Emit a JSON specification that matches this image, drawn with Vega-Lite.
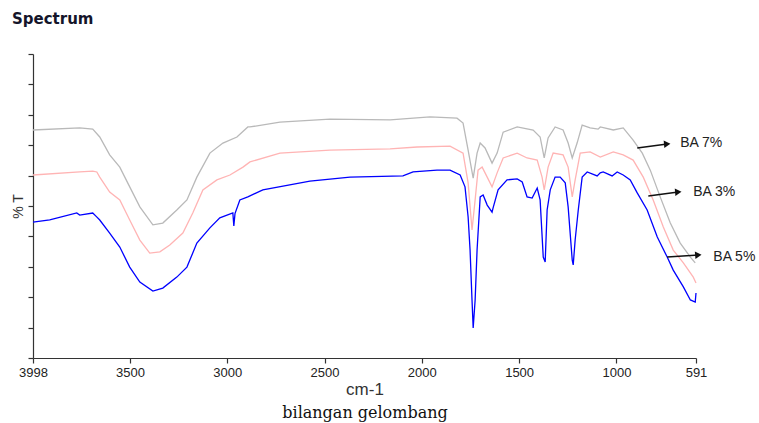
{
  "$schema": "https://vega.github.io/schema/vega-lite/v6.json",
  "width": 663,
  "height": 304,
  "autosize": {"type": "none"},
  "padding": {"left": 33, "top": 54, "right": 63, "bottom": 65},
  "background": "white",
  "config": {"view": {"stroke": null}, "axis": {"grid": false}},
  "title": {"text": "Spectrum", "anchor": "start", "frame": "group", "dx": -21, "offset": 26, "font": "DejaVu Sans", "fontSize": 15, "fontWeight": "bold", "color": "#15152a"},
  "datasets": {
    "spectra": [
      {"s":"BA 5%","wn":3998,"t":44.7},{"s":"BA 5%","wn":3912,"t":45.4},{"s":"BA 5%","wn":3773,"t":47.7},{"s":"BA 5%","wn":3758,"t":47.0},{"s":"BA 5%","wn":3691,"t":47.7},{"s":"BA 5%","wn":3672,"t":46.5},{"s":"BA 5%","wn":3655,"t":45.4},{"s":"BA 5%","wn":3604,"t":41.1},{"s":"BA 5%","wn":3552,"t":36.5},{"s":"BA 5%","wn":3501,"t":29.9},{"s":"BA 5%","wn":3449,"t":25.0},{"s":"BA 5%","wn":3382,"t":22.0},{"s":"BA 5%","wn":3331,"t":23.0},{"s":"BA 5%","wn":3259,"t":26.6},{"s":"BA 5%","wn":3207,"t":29.9},{"s":"BA 5%","wn":3156,"t":37.8},{"s":"BA 5%","wn":3089,"t":42.8},{"s":"BA 5%","wn":3038,"t":46.1},{"s":"BA 5%","wn":2971,"t":47.7},{"s":"BA 5%","wn":2966,"t":43.4},{"s":"BA 5%","wn":2960,"t":47.5},{"s":"BA 5%","wn":2935,"t":52.0},{"s":"BA 5%","wn":2894,"t":53.0},{"s":"BA 5%","wn":2817,"t":55.3},{"s":"BA 5%","wn":2575,"t":58.2},{"s":"BA 5%","wn":2369,"t":59.5},{"s":"BA 5%","wn":2097,"t":59.9},{"s":"BA 5%","wn":2045,"t":61.2},{"s":"BA 5%","wn":1922,"t":61.8},{"s":"BA 5%","wn":1855,"t":61.8},{"s":"BA 5%","wn":1803,"t":60.2},{"s":"BA 5%","wn":1778,"t":56.3},{"s":"BA 5%","wn":1762,"t":46.4},{"s":"BA 5%","wn":1752,"t":35.5},{"s":"BA 5%","wn":1742,"t":19.1},{"s":"BA 5%","wn":1736,"t":9.9},{"s":"BA 5%","wn":1726,"t":19.1},{"s":"BA 5%","wn":1716,"t":35.5},{"s":"BA 5%","wn":1700,"t":53.0},{"s":"BA 5%","wn":1685,"t":53.6},{"s":"BA 5%","wn":1664,"t":50.3},{"s":"BA 5%","wn":1639,"t":48.0},{"s":"BA 5%","wn":1634,"t":49.3},{"s":"BA 5%","wn":1608,"t":55.3},{"s":"BA 5%","wn":1562,"t":58.6},{"s":"BA 5%","wn":1510,"t":58.9},{"s":"BA 5%","wn":1484,"t":57.9},{"s":"BA 5%","wn":1459,"t":53.0},{"s":"BA 5%","wn":1433,"t":52.6},{"s":"BA 5%","wn":1407,"t":55.9},{"s":"BA 5%","wn":1392,"t":52.0},{"s":"BA 5%","wn":1376,"t":33.2},{"s":"BA 5%","wn":1366,"t":31.6},{"s":"BA 5%","wn":1356,"t":48.7},{"s":"BA 5%","wn":1340,"t":55.3},{"s":"BA 5%","wn":1315,"t":59.5},{"s":"BA 5%","wn":1289,"t":59.5},{"s":"BA 5%","wn":1263,"t":57.6},{"s":"BA 5%","wn":1248,"t":49.7},{"s":"BA 5%","wn":1227,"t":32.2},{"s":"BA 5%","wn":1222,"t":30.6},{"s":"BA 5%","wn":1212,"t":38.8},{"s":"BA 5%","wn":1196,"t":48.7},{"s":"BA 5%","wn":1176,"t":59.5},{"s":"BA 5%","wn":1150,"t":61.2},{"s":"BA 5%","wn":1099,"t":59.9},{"s":"BA 5%","wn":1083,"t":60.9},{"s":"BA 5%","wn":1068,"t":61.2},{"s":"BA 5%","wn":1022,"t":59.9},{"s":"BA 5%","wn":996,"t":61.2},{"s":"BA 5%","wn":965,"t":60.2},{"s":"BA 5%","wn":929,"t":58.6},{"s":"BA 5%","wn":893,"t":54.3},{"s":"BA 5%","wn":842,"t":48.7},{"s":"BA 5%","wn":790,"t":39.8},{"s":"BA 5%","wn":739,"t":33.2},{"s":"BA 5%","wn":708,"t":28.9},{"s":"BA 5%","wn":656,"t":23.4},{"s":"BA 5%","wn":620,"t":19.1},{"s":"BA 5%","wn":595,"t":18.4},{"s":"BA 5%","wn":591,"t":21.4},
      {"s":"BA 3%","wn":3998,"t":60.2},{"s":"BA 3%","wn":3758,"t":61.2},{"s":"BA 3%","wn":3691,"t":61.5},{"s":"BA 3%","wn":3670,"t":61.2},{"s":"BA 3%","wn":3655,"t":59.5},{"s":"BA 3%","wn":3604,"t":54.6},{"s":"BA 3%","wn":3552,"t":52.0},{"s":"BA 3%","wn":3501,"t":45.4},{"s":"BA 3%","wn":3449,"t":38.8},{"s":"BA 3%","wn":3398,"t":34.5},{"s":"BA 3%","wn":3346,"t":34.9},{"s":"BA 3%","wn":3295,"t":37.2},{"s":"BA 3%","wn":3228,"t":41.1},{"s":"BA 3%","wn":3177,"t":47.7},{"s":"BA 3%","wn":3125,"t":55.3},{"s":"BA 3%","wn":3053,"t":58.6},{"s":"BA 3%","wn":2986,"t":60.2},{"s":"BA 3%","wn":2919,"t":62.8},{"s":"BA 3%","wn":2883,"t":64.5},{"s":"BA 3%","wn":2729,"t":67.4},{"s":"BA 3%","wn":2472,"t":68.4},{"s":"BA 3%","wn":2163,"t":68.8},{"s":"BA 3%","wn":2024,"t":69.4},{"s":"BA 3%","wn":1855,"t":69.7},{"s":"BA 3%","wn":1788,"t":67.4},{"s":"BA 3%","wn":1762,"t":57.6},{"s":"BA 3%","wn":1742,"t":42.1},{"s":"BA 3%","wn":1726,"t":52.0},{"s":"BA 3%","wn":1711,"t":61.8},{"s":"BA 3%","wn":1690,"t":62.8},{"s":"BA 3%","wn":1664,"t":59.5},{"s":"BA 3%","wn":1639,"t":56.3},{"s":"BA 3%","wn":1613,"t":60.9},{"s":"BA 3%","wn":1582,"t":65.8},{"s":"BA 3%","wn":1510,"t":67.4},{"s":"BA 3%","wn":1459,"t":65.8},{"s":"BA 3%","wn":1407,"t":65.1},{"s":"BA 3%","wn":1382,"t":59.5},{"s":"BA 3%","wn":1371,"t":55.3},{"s":"BA 3%","wn":1351,"t":62.8},{"s":"BA 3%","wn":1325,"t":67.4},{"s":"BA 3%","wn":1274,"t":66.8},{"s":"BA 3%","wn":1248,"t":62.8},{"s":"BA 3%","wn":1227,"t":53.0},{"s":"BA 3%","wn":1212,"t":58.6},{"s":"BA 3%","wn":1186,"t":67.4},{"s":"BA 3%","wn":1135,"t":67.8},{"s":"BA 3%","wn":1083,"t":66.1},{"s":"BA 3%","wn":1016,"t":67.8},{"s":"BA 3%","wn":965,"t":66.8},{"s":"BA 3%","wn":914,"t":65.1},{"s":"BA 3%","wn":862,"t":59.5},{"s":"BA 3%","wn":811,"t":52.0},{"s":"BA 3%","wn":759,"t":43.1},{"s":"BA 3%","wn":708,"t":35.5},{"s":"BA 3%","wn":656,"t":31.3},{"s":"BA 3%","wn":605,"t":26.6},{"s":"BA 3%","wn":591,"t":24.7},
      {"s":"BA 7%","wn":3998,"t":75.0},{"s":"BA 7%","wn":3758,"t":75.7},{"s":"BA 7%","wn":3691,"t":75.3},{"s":"BA 7%","wn":3655,"t":72.7},{"s":"BA 7%","wn":3604,"t":66.8},{"s":"BA 7%","wn":3552,"t":62.8},{"s":"BA 7%","wn":3501,"t":56.3},{"s":"BA 7%","wn":3449,"t":49.7},{"s":"BA 7%","wn":3382,"t":43.8},{"s":"BA 7%","wn":3331,"t":44.4},{"s":"BA 7%","wn":3259,"t":48.7},{"s":"BA 7%","wn":3207,"t":52.0},{"s":"BA 7%","wn":3156,"t":59.5},{"s":"BA 7%","wn":3089,"t":67.4},{"s":"BA 7%","wn":3022,"t":70.7},{"s":"BA 7%","wn":2950,"t":72.7},{"s":"BA 7%","wn":2894,"t":76.0},{"s":"BA 7%","wn":2883,"t":76.0},{"s":"BA 7%","wn":2729,"t":77.6},{"s":"BA 7%","wn":2472,"t":78.6},{"s":"BA 7%","wn":2163,"t":78.3},{"s":"BA 7%","wn":1958,"t":79.3},{"s":"BA 7%","wn":1819,"t":78.9},{"s":"BA 7%","wn":1788,"t":77.3},{"s":"BA 7%","wn":1762,"t":68.4},{"s":"BA 7%","wn":1736,"t":59.2},{"s":"BA 7%","wn":1716,"t":67.4},{"s":"BA 7%","wn":1700,"t":70.7},{"s":"BA 7%","wn":1675,"t":69.1},{"s":"BA 7%","wn":1639,"t":64.1},{"s":"BA 7%","wn":1613,"t":67.4},{"s":"BA 7%","wn":1582,"t":74.3},{"s":"BA 7%","wn":1510,"t":76.0},{"s":"BA 7%","wn":1428,"t":75.0},{"s":"BA 7%","wn":1392,"t":72.7},{"s":"BA 7%","wn":1371,"t":65.8},{"s":"BA 7%","wn":1351,"t":72.4},{"s":"BA 7%","wn":1315,"t":76.0},{"s":"BA 7%","wn":1274,"t":75.0},{"s":"BA 7%","wn":1248,"t":70.7},{"s":"BA 7%","wn":1227,"t":65.8},{"s":"BA 7%","wn":1202,"t":70.7},{"s":"BA 7%","wn":1176,"t":76.6},{"s":"BA 7%","wn":1135,"t":75.7},{"s":"BA 7%","wn":1094,"t":75.3},{"s":"BA 7%","wn":1083,"t":76.0},{"s":"BA 7%","wn":1016,"t":75.0},{"s":"BA 7%","wn":965,"t":75.7},{"s":"BA 7%","wn":914,"t":71.7},{"s":"BA 7%","wn":867,"t":67.4},{"s":"BA 7%","wn":826,"t":61.8},{"s":"BA 7%","wn":775,"t":53.0},{"s":"BA 7%","wn":723,"t":44.4},{"s":"BA 7%","wn":672,"t":37.8},{"s":"BA 7%","wn":620,"t":33.2},{"s":"BA 7%","wn":595,"t":31.3}
    ],
    "arrows": [
      {"s":"BA 7%","x1":893,"y1":69.1,"x2":739,"y2":70.4,"lx":672,"ly":70.7},
      {"s":"BA 3%","x1":836,"y1":53.3,"x2":682,"y2":54.6,"lx":605,"ly":54.6},
      {"s":"BA 5%","x1":739,"y1":33.2,"x2":579,"y2":33.9,"lx":502,"ly":33.2}
    ]
  },
  "resolve": {"axis": {"x": "independent"}},
  "layer": [
    {
      "data": {"name": "spectra"},
      "mark": {"type": "line", "strokeWidth": 1.3},
      "encoding": {
        "x": {"field": "wn", "type": "quantitative", "scale": {"domain": [3998, 591], "nice": false, "zero": false},
          "axis": {"orient": "bottom", "values": [3998, 3500, 3000, 2500, 2000, 1500, 1000, 591], "format": "d", "title": "cm-1", "titleFont": "Liberation Sans", "titleFontSize": 17, "titleFontWeight": "normal", "titleColor": "#333", "titlePadding": 2, "labelFont": "Liberation Sans", "labelFontSize": 13, "labelColor": "#222", "labelPadding": 3, "domainColor": "#333", "domainWidth": 1.2, "tickColor": "#333", "tickSize": 5, "tickWidth": 1.2, "labelFlush": false, "labelOverlap": false}},
        "y": {"field": "t", "type": "quantitative", "title": "% T", "scale": {"domain": [0, 100], "nice": false, "zero": false},
          "axis": {"values": [0, 10, 20, 30, 40, 50, 60, 70, 80, 90, 100], "labels": false, "titleFont": "Liberation Sans", "titleFontSize": 14, "titleFontWeight": "normal", "titleColor": "#333", "titlePadding": 2, "domainColor": "#333", "domainWidth": 1.2, "tickColor": "#333", "tickSize": 5, "tickWidth": 1.2}},
        "color": {"field": "s", "type": "nominal", "scale": {"domain": ["BA 7%", "BA 3%", "BA 5%"], "range": ["#b9b9b9", "#ffb4b4", "#0000ff"]}, "legend": null}
      }
    },
    {
      "data": {"name": "arrows"},
      "mark": {"type": "rule", "color": "#111", "strokeWidth": 1.4},
      "encoding": {
        "x": {"field": "x1", "type": "quantitative", "axis": null},
        "x2": {"field": "x2"},
        "y": {"field": "y1", "type": "quantitative", "title": "% T",
          "axis": {"values": [0, 10, 20, 30, 40, 50, 60, 70, 80, 90, 100], "labels": false, "titleFont": "Liberation Sans", "titleFontSize": 14, "titleFontWeight": "normal", "titleColor": "#333", "titlePadding": 2, "domainColor": "#333", "domainWidth": 1.2, "tickColor": "#333", "tickSize": 5, "tickWidth": 1.2}},
        "y2": {"field": "y2"}
      }
    },
    {
      "data": {"name": "arrows"},
      "mark": {"type": "point", "shape": "triangle-right", "filled": true, "color": "#111", "size": 55, "opacity": 1, "angle": -5},
      "encoding": {
        "x": {"field": "x2", "type": "quantitative", "axis": null},
        "y": {"field": "y2", "type": "quantitative", "title": "% T",
          "axis": {"values": [0, 10, 20, 30, 40, 50, 60, 70, 80, 90, 100], "labels": false, "titleFont": "Liberation Sans", "titleFontSize": 14, "titleFontWeight": "normal", "titleColor": "#333", "titlePadding": 2, "domainColor": "#333", "domainWidth": 1.2, "tickColor": "#333", "tickSize": 5, "tickWidth": 1.2}}
      }
    },
    {
      "data": {"name": "arrows"},
      "mark": {"type": "text", "align": "left", "baseline": "middle", "font": "Liberation Sans", "fontSize": 14, "color": "#222"},
      "encoding": {
        "x": {"field": "lx", "type": "quantitative", "axis": {"orient": "bottom", "offset": 43, "title": "bilangan gelombang", "domain": false, "ticks": false, "labels": false, "titleFont": "DejaVu Serif", "titleFontSize": 16, "titleFontWeight": "normal", "titleColor": "#111", "titlePadding": 3}},
        "y": {"field": "ly", "type": "quantitative", "title": "% T",
          "axis": {"values": [0, 10, 20, 30, 40, 50, 60, 70, 80, 90, 100], "labels": false, "titleFont": "Liberation Sans", "titleFontSize": 14, "titleFontWeight": "normal", "titleColor": "#333", "titlePadding": 2, "domainColor": "#333", "domainWidth": 1.2, "tickColor": "#333", "tickSize": 5, "tickWidth": 1.2}},
        "text": {"field": "s"}
      }
    }
  ]
}
